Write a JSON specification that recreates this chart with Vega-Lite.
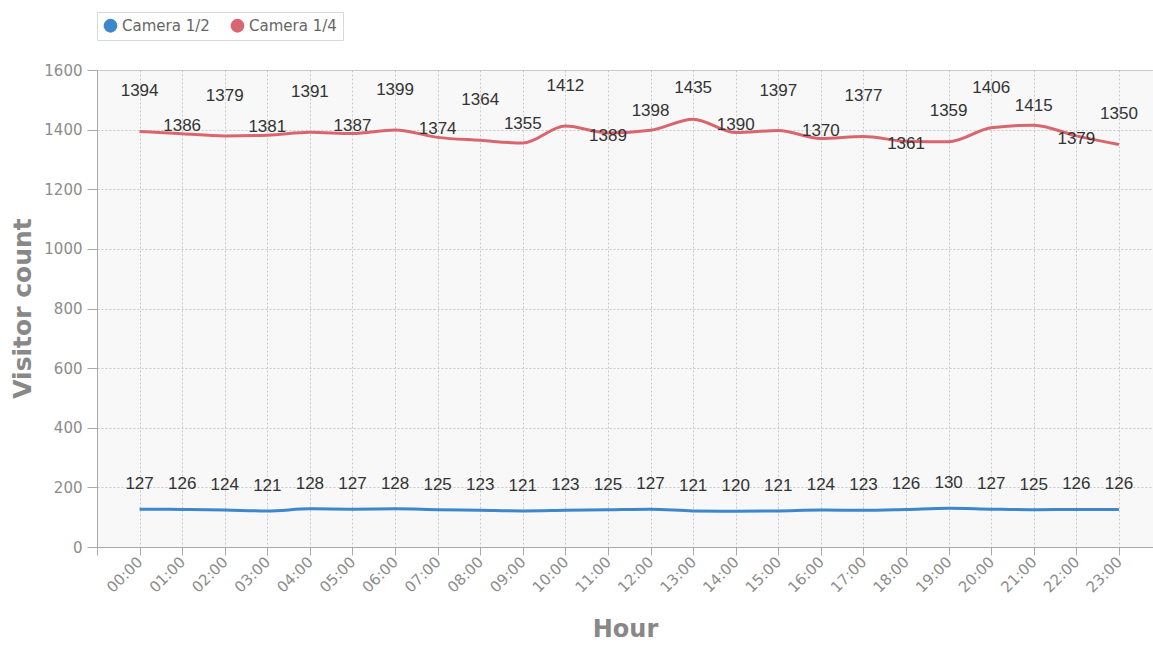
{
  "$schema": "https://vega.github.io/schema/vega-lite/v6.json",
  "width": 1056,
  "height": 477,
  "autosize": "none",
  "padding": {"left": 97, "top": 70, "right": 0, "bottom": 98},
  "background": "white",
  "config": {
    "view": {"fill": "#f8f8f8", "stroke": "#cccccc", "strokeWidth": 1},
    "axis": {"labelFont": "DejaVu Sans", "titleFont": "DejaVu Sans"}
  },
  "data": {
    "values": [
      {"hour": 0, "camera": "Camera 1/2", "visitors": 127},
      {"hour": 1, "camera": "Camera 1/2", "visitors": 126},
      {"hour": 2, "camera": "Camera 1/2", "visitors": 124},
      {"hour": 3, "camera": "Camera 1/2", "visitors": 121},
      {"hour": 4, "camera": "Camera 1/2", "visitors": 128},
      {"hour": 5, "camera": "Camera 1/2", "visitors": 127},
      {"hour": 6, "camera": "Camera 1/2", "visitors": 128},
      {"hour": 7, "camera": "Camera 1/2", "visitors": 125},
      {"hour": 8, "camera": "Camera 1/2", "visitors": 123},
      {"hour": 9, "camera": "Camera 1/2", "visitors": 121},
      {"hour": 10, "camera": "Camera 1/2", "visitors": 123},
      {"hour": 11, "camera": "Camera 1/2", "visitors": 125},
      {"hour": 12, "camera": "Camera 1/2", "visitors": 127},
      {"hour": 13, "camera": "Camera 1/2", "visitors": 121},
      {"hour": 14, "camera": "Camera 1/2", "visitors": 120},
      {"hour": 15, "camera": "Camera 1/2", "visitors": 121},
      {"hour": 16, "camera": "Camera 1/2", "visitors": 124},
      {"hour": 17, "camera": "Camera 1/2", "visitors": 123},
      {"hour": 18, "camera": "Camera 1/2", "visitors": 126},
      {"hour": 19, "camera": "Camera 1/2", "visitors": 130},
      {"hour": 20, "camera": "Camera 1/2", "visitors": 127},
      {"hour": 21, "camera": "Camera 1/2", "visitors": 125},
      {"hour": 22, "camera": "Camera 1/2", "visitors": 126},
      {"hour": 23, "camera": "Camera 1/2", "visitors": 126},
      {"hour": 0, "camera": "Camera 1/4", "visitors": 1394},
      {"hour": 1, "camera": "Camera 1/4", "visitors": 1386},
      {"hour": 2, "camera": "Camera 1/4", "visitors": 1379},
      {"hour": 3, "camera": "Camera 1/4", "visitors": 1381},
      {"hour": 4, "camera": "Camera 1/4", "visitors": 1391},
      {"hour": 5, "camera": "Camera 1/4", "visitors": 1387},
      {"hour": 6, "camera": "Camera 1/4", "visitors": 1399},
      {"hour": 7, "camera": "Camera 1/4", "visitors": 1374},
      {"hour": 8, "camera": "Camera 1/4", "visitors": 1364},
      {"hour": 9, "camera": "Camera 1/4", "visitors": 1355},
      {"hour": 10, "camera": "Camera 1/4", "visitors": 1412},
      {"hour": 11, "camera": "Camera 1/4", "visitors": 1389},
      {"hour": 12, "camera": "Camera 1/4", "visitors": 1398},
      {"hour": 13, "camera": "Camera 1/4", "visitors": 1435},
      {"hour": 14, "camera": "Camera 1/4", "visitors": 1390},
      {"hour": 15, "camera": "Camera 1/4", "visitors": 1397},
      {"hour": 16, "camera": "Camera 1/4", "visitors": 1370},
      {"hour": 17, "camera": "Camera 1/4", "visitors": 1377},
      {"hour": 18, "camera": "Camera 1/4", "visitors": 1361},
      {"hour": 19, "camera": "Camera 1/4", "visitors": 1359},
      {"hour": 20, "camera": "Camera 1/4", "visitors": 1406},
      {"hour": 21, "camera": "Camera 1/4", "visitors": 1415},
      {"hour": 22, "camera": "Camera 1/4", "visitors": 1379},
      {"hour": 23, "camera": "Camera 1/4", "visitors": 1350}
    ]
  },
  "encoding": {
    "x": {
      "field": "hour",
      "type": "quantitative",
      "scale": {"domain": [-1, 23.8], "nice": false, "zero": false},
      "axis": {
        "title": "Hour",
        "values": [-1, 0, 1, 2, 3, 4, 5, 6, 7, 8, 9, 10, 11, 12, 13, 14, 15, 16, 17, 18, 19, 20, 21, 22, 23],
        "labelExpr": "datum.value < 0 ? '' : (datum.value < 10 ? '0' : '') + datum.value + ':00'",
        "labelAngle": -45,
        "labelAlign": "right",
        "labelBaseline": "middle",
        "labelFontSize": 15,
        "labelColor": "#8c8c8c",
        "labelPadding": 4,
        "labelOverlap": false,
        "labelFlush": false,
        "tickSize": 8,
        "tickColor": "#aaaaaa",
        "domainColor": "#aaaaaa",
        "grid": true,
        "gridColor": "#c8c8c8",
        "gridDash": [2, 2],
        "titleFontSize": 24,
        "titleFontWeight": "bold",
        "titleColor": "#888888",
        "titleX": 528,
        "titleY": 82,
        "titleBaseline": "middle",
        "titleAlign": "center"
      }
    },
    "y": {
      "field": "visitors",
      "type": "quantitative",
      "scale": {"domain": [0, 1600], "nice": false},
      "axis": {
        "title": "Visitor count",
        "values": [0, 200, 400, 600, 800, 1000, 1200, 1400, 1600],
        "format": "d",
        "labelFontSize": 15,
        "labelColor": "#8c8c8c",
        "labelPadding": 5,
        "tickSize": 10,
        "tickColor": "#aaaaaa",
        "domainColor": "#aaaaaa",
        "grid": true,
        "gridColor": "#c8c8c8",
        "gridDash": [2, 2],
        "titleFontSize": 25,
        "titleFontWeight": "bold",
        "titleColor": "#888888",
        "titleAngle": -90,
        "titleX": -75,
        "titleY": 238,
        "titleBaseline": "middle",
        "titleAlign": "center"
      }
    }
  },
  "layer": [
    {
      "mark": {"type": "line", "interpolate": "monotone", "strokeWidth": 3},
      "encoding": {
        "color": {
          "field": "camera",
          "type": "nominal",
          "scale": {"domain": ["Camera 1/2", "Camera 1/4"], "range": ["#3d87cc", "#d9666e"]},
          "legend": {
            "title": null,
            "orient": "none",
            "legendX": 0,
            "legendY": -58,
            "direction": "horizontal",
            "symbolType": "circle",
            "symbolSize": 190,
            "symbolStrokeWidth": 0,
            "labelFont": "DejaVu Sans",
            "labelFontSize": 15,
            "labelColor": "#666666",
            "labelOffset": 4,
            "padding": 6,
            "columnPadding": 20,
            "strokeColor": "#d8d8d8",
            "fillColor": "white",
            "encode": {"symbols": {"update": {"fill": {"scale": "color", "field": "value"}, "opacity": {"value": 1}}}}
          }
        }
      }
    },
    {
      "transform": [{"filter": "datum.camera == 'Camera 1/2'"}],
      "mark": {"type": "text", "dy": -25, "baseline": "middle", "font": "Liberation Sans", "fontSize": 17, "color": "#333333"},
      "encoding": {"text": {"field": "visitors", "type": "quantitative"}}
    },
    {
      "transform": [{"filter": "datum.camera == 'Camera 1/4'"}, {"filter": {"field": "hour", "oneOf": [11, 18, 22]}}],
      "mark": {"type": "text", "dy": 3, "baseline": "middle", "font": "Liberation Sans", "fontSize": 17, "color": "#333333"},
      "encoding": {"text": {"field": "visitors", "type": "quantitative"}}
    },
    {
      "transform": [{"filter": "datum.camera == 'Camera 1/4'"}, {"filter": {"field": "hour", "oneOf": [1, 3, 5, 7, 14, 16]}}],
      "mark": {"type": "text", "dy": -8, "baseline": "middle", "font": "Liberation Sans", "fontSize": 17, "color": "#333333"},
      "encoding": {"text": {"field": "visitors", "type": "quantitative"}}
    },
    {
      "transform": [{"filter": "datum.camera == 'Camera 1/4'"}, {"filter": {"field": "hour", "oneOf": [9, 12, 21]}}],
      "mark": {"type": "text", "dy": -19, "baseline": "middle", "font": "Liberation Sans", "fontSize": 17, "color": "#333333"},
      "encoding": {"text": {"field": "visitors", "type": "quantitative"}}
    },
    {
      "transform": [{"filter": "datum.camera == 'Camera 1/4'"}, {"filter": {"field": "hour", "oneOf": [13, 19, 23]}}],
      "mark": {"type": "text", "dy": -31, "baseline": "middle", "font": "Liberation Sans", "fontSize": 17, "color": "#333333"},
      "encoding": {"text": {"field": "visitors", "type": "quantitative"}}
    },
    {
      "transform": [{"filter": "datum.camera == 'Camera 1/4'"}, {"filter": {"field": "hour", "oneOf": [0, 2, 4, 6, 8, 10, 15, 17, 20]}}],
      "mark": {"type": "text", "dy": -40, "baseline": "middle", "font": "Liberation Sans", "fontSize": 17, "color": "#333333"},
      "encoding": {"text": {"field": "visitors", "type": "quantitative"}}
    }
  ]
}
